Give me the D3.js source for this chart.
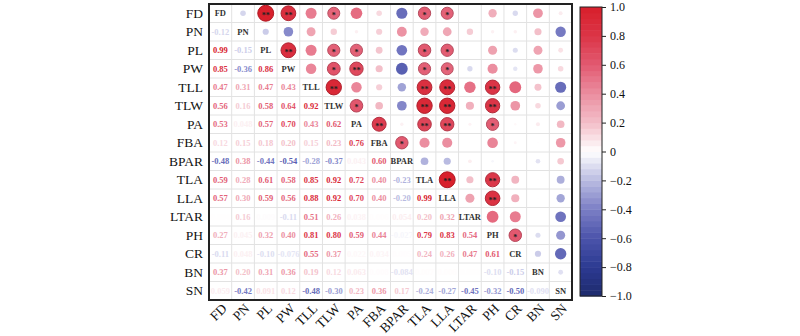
<!DOCTYPE html>
<html>
<head>
<meta charset="utf-8">
<script src="https://cdn.jsdelivr.net/npm/d3@7/dist/d3.min.js"></script>
<style>
  body { margin: 0; background: #fff; }
  svg text { font-family: "Liberation Serif", "Times New Roman", Times, serif; }
</style>
</head>
<body>
<svg id="chart" width="800" height="336"></svg>
<script>
var traits = ["FD","PN","PL","PW","TLL","TLW","PA","FBA","BPAR","TLA","LLA","LTAR","PH","CR","BN","SN"]

// lower triangle, row i holds r with traits 0..i-1
var corr = [
  [],
  [-0.12],
  [0.99, -0.15],
  [0.85, -0.36, 0.86],
  [0.47, 0.31, 0.47, 0.43],
  [0.56, 0.16, 0.58, 0.64, 0.92],
  [0.53, 0.048, 0.57, 0.70, 0.43, 0.62],
  [0.12, 0.15, 0.18, 0.20, 0.15, 0.23, 0.76],
  [-0.48, 0.38, -0.44, -0.54, -0.28, -0.37, 0.043, 0.60],
  [0.59, 0.28, 0.61, 0.58, 0.85, 0.92, 0.72, 0.40, -0.23],
  [0.57, 0.30, 0.59, 0.56, 0.88, 0.92, 0.70, 0.40, -0.20, 0.99],
  [0.004, 0.16, 0.009, -0.11, 0.51, 0.26, 0.038, 0.006, 0.054, 0.20, 0.32],
  [0.27, 0.045, 0.32, 0.40, 0.81, 0.80, 0.59, 0.44, -0.027, 0.79, 0.83, 0.54],
  [-0.11, 0.048, -0.10, -0.076, 0.55, 0.37, 0.022, 0.034, 0.005, 0.24, 0.26, 0.47, 0.61],
  [0.37, 0.20, 0.31, 0.36, 0.19, 0.12, 0.063, 0.008, -0.084, 0.007, 0.006, 0.003, -0.10, -0.15],
  [0.059, -0.42, 0.091, 0.12, -0.48, -0.30, 0.23, 0.36, 0.17, -0.24, -0.27, -0.45, -0.32, -0.50, -0.090]
]

// significance marks, same layout as corr
var sig = [
  [],
  [""],
  ["**",""],
  ["**","","**"],
  ["","","",""],
  ["*","","*","*","**"],
  ["","","*","**","","*"],
  ["","","","","","","**"],
  ["","","","","","","","*"],
  ["*","","*","*","**","**","**","",""],
  ["*","","*","*","**","**","**","","","**"],
  ["","","","","","","","","","",""],
  ["","","","","**","**","*","","","**","**",""],
  ["","","","","","","","","","","","","*"],
  ["","","","","","","","","","","","","",""],
  ["","","","","","","","","","","","","","",""]
]

var barTicks = [1.0, 0.8, 0.6, 0.4, 0.2, 0, -0.2, -0.4, -0.6, -0.8, -1.0]
var stopVals = [-1, -0.8, -0.6, -0.4, -0.2, 0, 0.2, 0.4, 0.6, 0.8, 1]
var stopCols = ["#1d2a6c","#2c3a92","#4b53aa","#7b7ec5","#b9bbe1","#ffffff","#f3bfc9","#eb8ea0","#e25a71","#db3547","#d81f2b"]

var svg = d3.select("#chart")
var color = d3.scaleLinear().domain(stopVals).range(stopCols).clamp(true)

var x = d3.scaleBand().domain(traits).range([209, 572])
var y = d3.scaleBand().domain(traits).range([4, 300])
var bw = x.bandwidth(), bh = y.bandwidth()
var rScale = d3.scaleSqrt().domain([0, 1]).range([0, 8])

var cells = []
for (var i = 0; i < traits.length; i++) {
  for (var j = 0; j < i; j++) {
    cells.push({ row: traits[i], col: traits[j], v: corr[i][j], s: sig[i][j], lower: true })
    cells.push({ row: traits[j], col: traits[i], v: corr[i][j], s: sig[i][j], lower: false })
  }
}

// grid
var grid = svg.append("g")
grid.selectAll("line.v").data(traits.slice(1)).enter().append("line")
  .attr("x1", function(d){return x(d)}).attr("x2", function(d){return x(d)})
  .attr("y1", y.range()[0]).attr("y2", y.range()[1])
  .attr("stroke", "#e2e2e2").attr("stroke-width", 1)
grid.selectAll("line.h").data(traits.slice(1)).enter().append("line")
  .attr("y1", function(d){return y(d)}).attr("y2", function(d){return y(d)})
  .attr("x1", x.range()[0]).attr("x2", x.range()[1])
  .attr("stroke", "#e2e2e2").attr("stroke-width", 1)

function fmt(v) {
  return Math.abs(v) < 0.1 ? v.toFixed(3) : v.toFixed(2)
}

// lower triangle: numbers
svg.append("g").selectAll("text").data(cells.filter(function(d){return d.lower})).enter().append("text")
  .attr("x", function(d){return x(d.col) + bw / 2})
  .attr("y", function(d){return y(d.row) + bh / 2})
  .attr("dy", "0.35em")
  .attr("text-anchor", "middle")
  .attr("font-size", "8.5px")
  .attr("font-weight", "bold")
  .attr("fill", function(d){return color(d.v)})
  .text(function(d){return fmt(d.v)})

// upper triangle: circles
var up = svg.append("g").selectAll("g").data(cells.filter(function(d){return !d.lower})).enter().append("g")
  .attr("transform", function(d){return "translate(" + (x(d.col) + bw / 2) + "," + (y(d.row) + bh / 2) + ")"})
up.append("circle")
  .attr("r", function(d){return rScale(Math.abs(d.v))})
  .attr("fill", function(d){return color(d.v)})
  .attr("stroke", function(d){return d.s ? d3.color(color(d.v)).darker(0.6) : "none"})
  .attr("stroke-width", 1)
up.filter(function(d){return d.s}).append("text")
  .attr("text-anchor", "middle")
  .attr("dy", "0.55em")
  .attr("font-size", "8px")
  .attr("font-weight", "bold")
  .attr("fill", "#222")
  .text(function(d){return d.s})

// diagonal names
svg.append("g").selectAll("text").data(traits).enter().append("text")
  .attr("x", function(d){return x(d) + bw / 2})
  .attr("y", function(d){return y(d) + bh / 2})
  .attr("dy", "0.35em")
  .attr("text-anchor", "middle")
  .attr("font-size", "8.5px")
  .attr("font-weight", "bold")
  .attr("fill", "#333")
  .text(function(d){return d})

// frame
svg.append("rect")
  .attr("x", x.range()[0]).attr("y", y.range()[0])
  .attr("width", x.range()[1] - x.range()[0]).attr("height", y.range()[1] - y.range()[0])
  .attr("fill", "none").attr("stroke", "#222").attr("stroke-width", 2)

// row labels
svg.append("g").selectAll("text").data(traits).enter().append("text")
  .attr("x", x.range()[0] - 6)
  .attr("y", function(d){return y(d) + bh / 2})
  .attr("dy", "0.35em")
  .attr("text-anchor", "end")
  .attr("font-size", "13.5px")
  .attr("fill", "#111")
  .text(function(d){return d})

// column labels, slanted
svg.append("g").selectAll("text").data(traits).enter().append("text")
  .attr("transform", function(d){return "translate(" + (x(d) + bw / 2 + 4) + "," + (y.range()[1] + 6) + ") rotate(-45)"})
  .attr("dy", "0.35em")
  .attr("text-anchor", "end")
  .attr("font-size", "13.5px")
  .attr("fill", "#111")
  .text(function(d){return d})

// colour bar
var cb = d3.scaleLinear().domain([1, -1]).range([7, 296])
var cbX = 580, cbW = 22
var bands = d3.range(-1, 1, 0.04)
svg.append("g").selectAll("rect").data(bands).enter().append("rect")
  .attr("x", cbX)
  .attr("y", function(d){return cb(d + 0.04)})
  .attr("width", cbW)
  .attr("height", function(d){return cb(d) - cb(d + 0.04) + 0.5})
  .attr("fill", function(d){return color(d + 0.02)})
svg.append("rect")
  .attr("x", cbX).attr("y", cb(1)).attr("width", cbW).attr("height", cb(-1) - cb(1))
  .attr("fill", "none").attr("stroke", "#222").attr("stroke-width", 1)

var axis = d3.axisRight(cb).tickValues(barTicks).tickSize(4).tickPadding(4)
  .tickFormat(function(d){return d === 0 ? "0" : d3.format(".1f")(d).replace("-", "\u2212")})
var ag = svg.append("g").attr("transform", "translate(" + (cbX + cbW) + ",0)").call(axis)
ag.select(".domain").remove()
ag.selectAll("text").attr("font-family", null).attr("font-size", "12px").attr("fill", "#111")
ag.selectAll("line").attr("stroke", "#222")
</script>
</body>
</html>
